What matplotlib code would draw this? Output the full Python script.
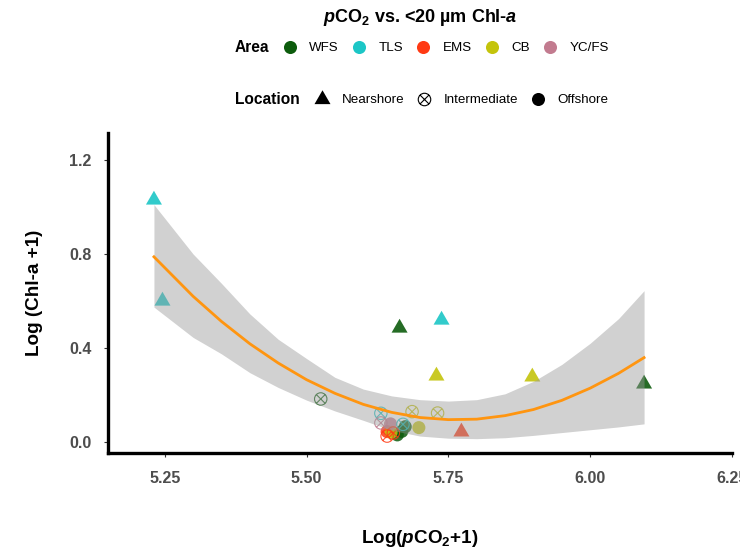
import matplotlib
matplotlib.use('Agg')
import matplotlib.pyplot as plt
from matplotlib.path import Path
from matplotlib.lines import Line2D

plt.rcParams['font.family'] = ['Liberation Sans', 'DejaVu Sans']
plt.rcParams['mathtext.fontset'] = 'custom'
plt.rcParams['mathtext.rm'] = 'Liberation Sans:bold'
plt.rcParams['mathtext.bf'] = 'Liberation Sans:bold'
plt.rcParams['mathtext.it'] = 'Liberation Sans:bold:italic'

areas = ['WFS', 'TLS', 'EMS', 'CB', 'YC/FS']
area_colors = ['#0d5c0d', '#1cc6c6', '#ff3a14', '#c4c40c', '#c27b8f']
locations = ['Nearshore', 'Intermediate', 'Offshore']

# nearshore stations
near_area = ['TLS', 'TLS', 'WFS', 'TLS', 'CB', 'EMS', 'CB', 'WFS']
near_pco2 = [5.231, 5.246, 5.664, 5.738, 5.729, 5.773, 5.898, 6.095]
near_chla = [1.03, 0.60, 0.485, 0.519, 0.281, 0.043, 0.277, 0.247]

# intermediate stations
mid_area = ['WFS', 'TLS', 'CB', 'CB', 'YC/FS', 'TLS', 'EMS', 'EMS']
mid_pco2 = [5.525, 5.631, 5.686, 5.731, 5.631, 5.670, 5.653, 5.642]
mid_chla = [0.183, 0.122, 0.129, 0.123, 0.081, 0.075, 0.038, 0.025]

# offshore stations
off_area = ['WFS', 'WFS', 'WFS', 'EMS', 'CB', 'CB', 'YC/FS']
off_pco2 = [5.668, 5.674, 5.660, 5.642, 5.698, 5.649, 5.648]
off_chla = [0.045, 0.065, 0.030, 0.044, 0.061, 0.041, 0.077]

# quadratic lm fit and 95% band
fit_pco2 = [5.231, 5.30, 5.35, 5.40, 5.45, 5.50, 5.55, 5.60, 5.65,
            5.70, 5.75, 5.80, 5.85, 5.90, 5.95, 6.00, 6.05, 6.095]
fit_chla = [0.788, 0.620, 0.513, 0.418, 0.336, 0.265, 0.207, 0.160, 0.126,
            0.104, 0.095, 0.097, 0.112, 0.138, 0.177, 0.229, 0.292, 0.359]
fit_hi = [1.010, 0.800, 0.675, 0.545, 0.437, 0.355, 0.275, 0.225, 0.196,
          0.180, 0.174, 0.180, 0.205, 0.258, 0.330, 0.420, 0.525, 0.644]
fit_lo = [0.574, 0.445, 0.375, 0.295, 0.232, 0.178, 0.132, 0.092, 0.050,
          0.025, 0.016, 0.014, 0.018, 0.028, 0.040, 0.052, 0.064, 0.077]

x_ticks = [5.25, 5.50, 5.75, 6.00, 6.25]
x_labels = ['5.25', '5.50', '5.75', '6.00', '6.25']
y_ticks = [0.0, 0.4, 0.8, 1.2]
y_labels = ['0.0', '0.4', '0.8', '1.2']

color_of = dict(zip(areas, area_colors))

# markers shaped like R's pch 17 and 13
tri = Path([(0, 0.577), (-0.5, -0.289), (0.5, -0.289), (0, 0.577)],
           [Path.MOVETO, Path.LINETO, Path.LINETO, Path.CLOSEPOLY])
d = 0.7071
cross = Path([(-d, -d), (d, d), (-d, d), (d, -d)],
             [Path.MOVETO, Path.LINETO, Path.MOVETO, Path.LINETO])
circ_x = Path.make_compound_path(Path.unit_circle(), cross)

fig = plt.figure(figsize=(7.4, 5.54), dpi=100)
ax = fig.add_axes([108 / 740, 1 - 453 / 554, (732 - 108) / 740, (453 - 133) / 554])

ax.scatter(off_pco2, off_chla, marker='o', s=88, linewidths=0,
           c=[color_of[a] for a in off_area], alpha=0.85, zorder=2)
ax.scatter(mid_pco2, mid_chla, marker=circ_x, s=80, facecolors='none',
           edgecolors=[color_of[a] for a in mid_area], linewidths=0.8, alpha=0.85, zorder=2)
ax.scatter(near_pco2, near_chla, marker=tri, s=177, linewidths=0,
           c=[color_of[a] for a in near_area], alpha=0.9, zorder=2)

ax.fill_between(fit_pco2, fit_lo, fit_hi, color='#999999', alpha=0.45, lw=0, zorder=3)
ax.plot(fit_pco2, fit_chla, color='#ff9510', lw=2.0, zorder=4)

ax.set_xlim(5.15, 6.25)
ax.set_ylim(-0.047, 1.315)
ax.set_xticks(x_ticks)
ax.set_xticklabels(x_labels)
ax.set_yticks(y_ticks)
ax.set_yticklabels(y_labels)
for lab in ax.get_xticklabels() + ax.get_yticklabels():
    lab.set_fontweight('bold')
ax.tick_params(axis='x', length=3, width=0.8, color='#333333', labelsize=11.5,
               labelcolor='#4d4d4d', pad=10)
ax.tick_params(axis='y', length=3, width=0.8, color='#333333', labelsize=11.5,
               labelcolor='#4d4d4d', pad=9)

for s in ['top', 'right']:
    ax.spines[s].set_visible(False)
for s in ['left', 'bottom']:
    ax.spines[s].set_linewidth(2.4)
    ax.spines[s].set_color('black')

ax.set_xlabel(r'Log($p$CO$_2$+1)', fontsize=13.6, fontweight='bold', labelpad=30)
ax.set_ylabel('Log (Chl-a +1)', fontsize=13.6, fontweight='bold', labelpad=19)

fig.text(420 / 740, 1 - 17 / 554, r'$p$CO$_2$ vs. <20 µm Chl-$a$',
         ha='center', va='center', fontsize=13, fontweight='bold')

# legends
fig.text(235 / 740, 1 - 48 / 554, 'Area', ha='left', va='center',
         fontsize=11.2, fontweight='bold')
area_handles = [Line2D([], [], ls='', marker='o', markersize=9.4, color=c, mew=0)
                for c in area_colors]
fig.legend(area_handles, areas, loc='center left', bbox_to_anchor=(283.3 / 740, 1 - 48 / 554),
           ncol=5, frameon=False, fontsize=9.6, handlelength=1.0, handletextpad=0.96,
           columnspacing=1.0, borderpad=0, borderaxespad=0)

fig.text(235 / 740, 1 - 100 / 554, 'Location', ha='left', va='center',
         fontsize=11.2, fontweight='bold')
loc_handles = [
    Line2D([], [], ls='', marker=tri, markersize=13.3, color='black', mew=0),
    Line2D([], [], ls='', marker=circ_x, markersize=9.0, mfc='none', mec='black', mew=0.8),
    Line2D([], [], ls='', marker='o', markersize=9.4, color='black', mew=0),
]
fig.legend(loc_handles, locations, loc='center left', bbox_to_anchor=(315.3 / 740, 1 - 100 / 554),
           ncol=3, frameon=False, fontsize=9.6, handlelength=1.0, handletextpad=0.96,
           columnspacing=1.0, borderpad=0, borderaxespad=0)

fig.savefig('out.png', dpi=100)
